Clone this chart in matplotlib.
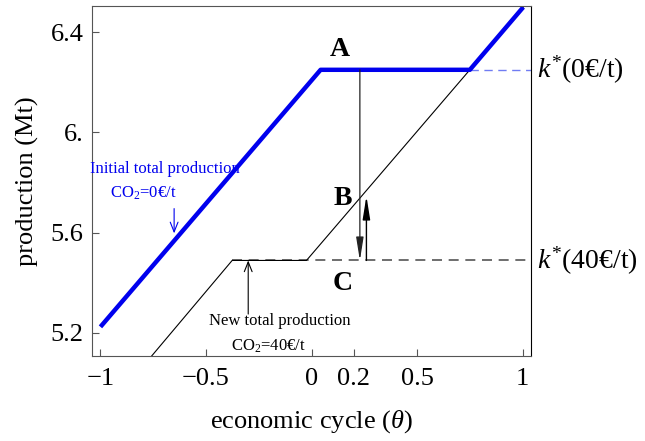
import matplotlib
matplotlib.use("Agg")
import matplotlib.pyplot as plt

plt.rcParams['font.family'] = ['Liberation Serif', 'DejaVu Serif']
plt.rcParams['mathtext.fontset'] = 'custom'
plt.rcParams['mathtext.rm'] = 'Liberation Serif'
plt.rcParams['mathtext.it'] = 'Liberation Serif:italic'
plt.rcParams['mathtext.bf'] = 'Liberation Serif:bold'

# data
theta_initial = [-1.0, 0.043, 0.75, 1.003]
prod_initial = [5.224, 6.25, 6.25, 6.50]
theta_new = [-0.80, -0.376, -0.024, 0.75, 1.003]
prod_new = [5.065, 5.489, 5.489, 6.25, 6.50]
k_star_0 = 6.25
k_star_40 = 5.489
theta_drop = 0.229
theta_rise = 0.26
prod_B = 5.746

xticks = [-1, -0.5, 0, 0.2, 0.5, 1]
xticklabels = ["\u22121", "\u22120.5", "0", "0.2", "0.5", "1"]
yticks = [5.2, 5.6, 6.0, 6.4]
yticklabels = ["5.2", "5.6", "6.", "6.4"]

fig = plt.figure(figsize=(6.45, 4.41), dpi=100)
ax = fig.add_axes([0.142, 0.193, 0.682, 0.793])
ax.set_xlim(-1.042, 1.042)
ax.set_ylim(5.108, 6.504)

# reference levels
ax.hlines(k_star_0, theta_initial[2], 1.042, colors='#3344ee', linestyles=(0, (6, 4)), lw=1.0, alpha=0.7)
ax.hlines(k_star_40, theta_new[1], 1.042, colors='#555555', linestyles=(0, (6, 4)), lw=1.2)

ax.plot(theta_new, prod_new, color='black', lw=0.8)
ax.plot(theta_initial, prod_initial, color='#0000ee', lw=3.2, solid_capstyle='butt')

# A -> C and C -> B arrows
ax.annotate("", xy=(theta_drop, k_star_40), xytext=(theta_drop, k_star_0),
            arrowprops=dict(arrowstyle='-|>,head_length=1.0,head_width=0.16', color='#222222',
                            lw=0.9, shrinkA=0, shrinkB=0, mutation_scale=14))
ax.annotate("", xy=(theta_rise, prod_B), xytext=(theta_rise, k_star_40),
            arrowprops=dict(arrowstyle='-|>,head_length=1.0,head_width=0.16', color='black',
                            lw=1.0, shrinkA=0, shrinkB=0, mutation_scale=14))

ax.text(0.134, 6.33, "A", fontsize=20, fontweight='bold', ha='center', va='center')
ax.text(0.148, 5.736, "B", fontsize=20, fontweight='bold', ha='center', va='center')
ax.text(0.148, 5.396, "C", fontsize=20, fontweight='bold', ha='center', va='center')

# annotations
ax.text(-0.695, 5.856, "Initial total production", color='#0000ee', fontsize=12, ha='center', va='center')
ax.text(-0.795, 5.756, "CO$_2$=0\u20ac/t", color='#0000ee', fontsize=12, ha='center', va='center')
ax.annotate("", xy=(-0.651, 5.597), xytext=(-0.651, 5.696),
            arrowprops=dict(arrowstyle='->,head_length=0.5,head_width=0.2', color='#0000ee',
                            lw=0.8, shrinkA=0, shrinkB=0, mutation_scale=14))

ax.text(-0.149, 5.249, "New total production", color='black', fontsize=12, ha='center', va='center')
ax.text(-0.202, 5.145, "CO$_2$=40\u20ac/t", color='black', fontsize=12, ha='center', va='center')
ax.annotate("", xy=(-0.300, k_star_40), xytext=(-0.300, 5.275),
            arrowprops=dict(arrowstyle='->,head_length=0.5,head_width=0.2', color='black',
                            lw=0.8, shrinkA=0, shrinkB=0, mutation_scale=14))

# right-hand level labels
for level, tag in [(k_star_0, "0"), (k_star_40, "40")]:
    ax.annotate("$k^{*}$(" + tag + "\u20ac/t)", xy=(1.0, level),
                xycoords=('axes fraction', 'data'), xytext=(4, 0),
                textcoords='offset points', fontsize=20, va='center', ha='left',
                annotation_clip=False)

ax.set_xticks(xticks)
ax.set_xticklabels(xticklabels, fontsize=19)
ax.set_yticks(yticks)
ax.set_yticklabels(yticklabels, fontsize=19)
ax.tick_params(direction='in', length=5, width=0.8, color='#555555', pad=6)
ax.tick_params(axis='x', pad=9)
for side in ['left', 'bottom', 'top']:
    ax.spines[side].set_color('#555555')
ax.spines['right'].set_color('black')

ax.set_xlabel(r"economic cycle ($\theta$)", fontsize=19, labelpad=13)
ax.set_ylabel("production (Mt)", fontsize=19, labelpad=8)

fig.savefig("out.png", dpi=100)
